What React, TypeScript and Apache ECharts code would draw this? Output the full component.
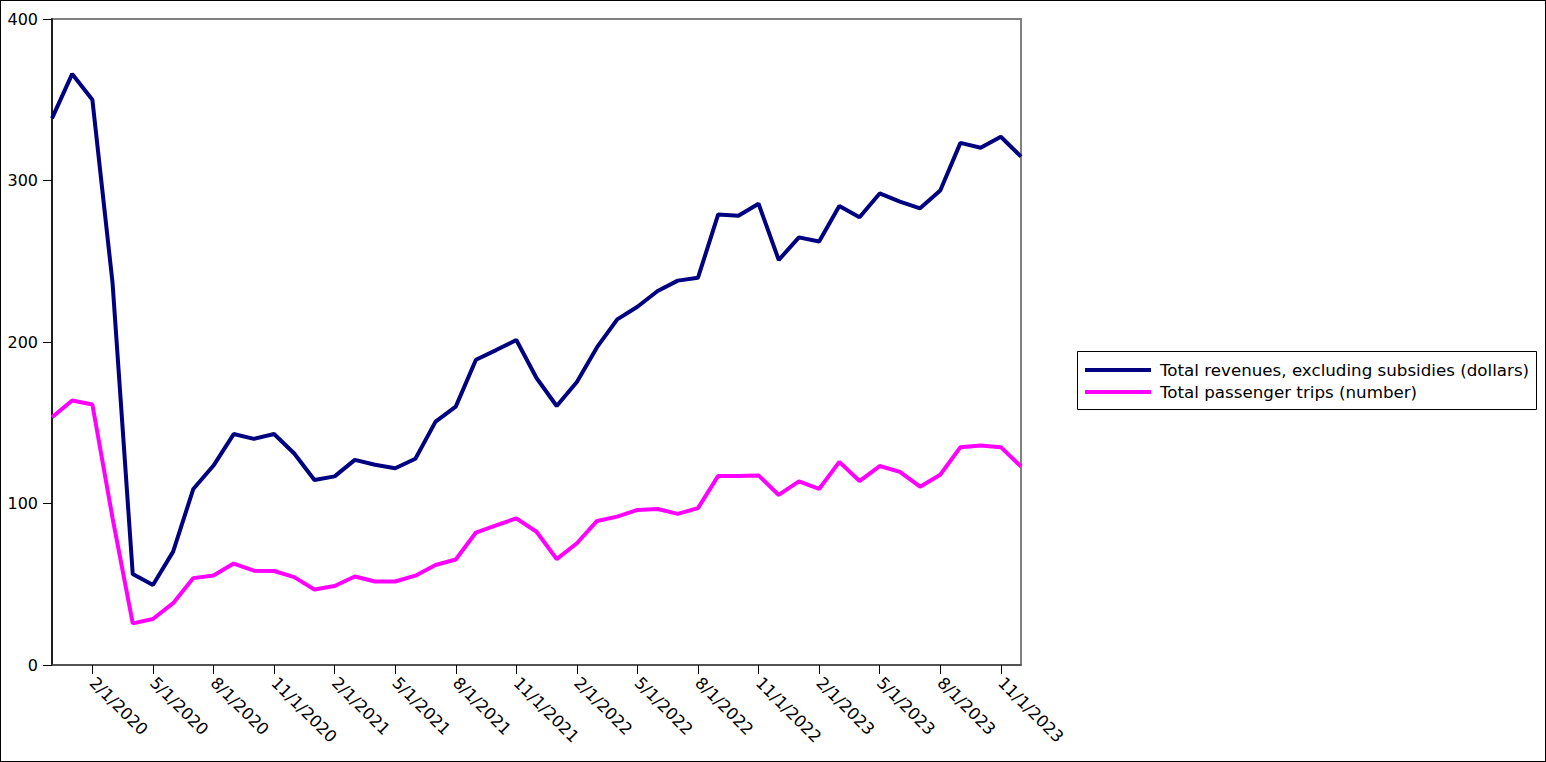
import React, { useEffect, useRef } from "react";
import * as echarts from "echarts";

const months = [
  "12/1/2019",
  "1/1/2020", "2/1/2020", "3/1/2020", "4/1/2020", "5/1/2020", "6/1/2020",
  "7/1/2020", "8/1/2020", "9/1/2020", "10/1/2020", "11/1/2020", "12/1/2020",
  "1/1/2021", "2/1/2021", "3/1/2021", "4/1/2021", "5/1/2021", "6/1/2021",
  "7/1/2021", "8/1/2021", "9/1/2021", "10/1/2021", "11/1/2021", "12/1/2021",
  "1/1/2022", "2/1/2022", "3/1/2022", "4/1/2022", "5/1/2022", "6/1/2022",
  "7/1/2022", "8/1/2022", "9/1/2022", "10/1/2022", "11/1/2022", "12/1/2022",
  "1/1/2023", "2/1/2023", "3/1/2023", "4/1/2023", "5/1/2023", "6/1/2023",
  "7/1/2023", "8/1/2023", "9/1/2023", "10/1/2023", "11/1/2023", "12/1/2023",
];

const revenues = [
  338.5, 366, 350, 236.5, 56.3, 49.5, 70.2, 109, 123.5, 143, 140, 143, 131,
  114.5, 116.8, 127, 124, 121.8, 127.7, 150.7, 160, 189, 195, 201.2, 177.7,
  160.4, 175.2, 196.8, 214, 221.8, 231.6, 238, 239.8, 279, 278.2, 285.6,
  250.8, 264.8, 262.2, 284.2, 277.2, 292, 286.9, 282.8, 293.8, 323.3, 320.3,
  327.1, 314.8,
];

const trips = [
  153.4, 163.8, 161.3, 91, 25.8, 28.5, 38.3, 53.8, 55.4, 62.8, 58.4, 58.2,
  54.4, 46.8, 48.9, 54.8, 51.7, 51.7, 55.3, 61.9, 65.3, 82, 86.5, 90.8, 82.5,
  65.6, 75.4, 89.2, 91.9, 96, 96.6, 93.6, 97.1, 117.1, 117, 117.4, 105.3,
  113.7, 109, 125.8, 113.9, 123.2, 119.6, 110.4, 117.8, 134.9, 135.9, 134.9,
  122.9,
];

const seriesNames = [
  "Total revenues, excluding subsidies (dollars)",
  "Total passenger trips (number)",
];
const seriesColors = ["#000080", "#ff00ff"];

const FONT = "DejaVu Sans";

export default function App() {
  const ref = useRef<HTMLDivElement>(null);
  useEffect(() => {
    const chart = echarts.init(ref.current!, null, { renderer: "svg" });
    const showIdx = (i: number) => i >= 2 && (i - 2) % 3 === 0;

    const legendX = 1077.5;
    const legendY = 351.5;
    const rowY = [370, 392];
    const legendGraphics: any[] = [
      {
        type: "rect",
        shape: { x: legendX, y: legendY, width: 459, height: 58 },
        style: { fill: "#fff", stroke: "#000", lineWidth: 1 },
        z: 100,
      },
    ];
    seriesNames.forEach((name, k) => {
      legendGraphics.push({
        type: "line",
        shape: { x1: 1085, y1: rowY[k], x2: 1151, y2: rowY[k] },
        style: { stroke: seriesColors[k], lineWidth: 4 },
        z: 101,
      });
      legendGraphics.push({
        type: "text",
        x: 1160,
        y: rowY[k],
        style: {
          text: name,
          fontSize: 16.7,
          fontFamily: FONT,
          fill: "#000",
          verticalAlign: "middle",
          align: "left",
        },
        z: 101,
      });
    });

    chart.setOption({
      animation: false,
      backgroundColor: "#ffffff",
      textStyle: { fontFamily: FONT },
      grid: {
        left: 52,
        top: 19,
        right: 525,
        bottom: 97,
        show: true,
        borderColor: "#808080",
        borderWidth: 2,
        containLabel: false,
      },
      graphic: legendGraphics,
      xAxis: {
        type: "category",
        data: months,
        boundaryGap: false,
        axisLine: { show: true, lineStyle: { color: "#444", width: 1.5 } },
        axisTick: {
          show: true,
          interval: (i: number) => showIdx(i),
          length: 9,
          lineStyle: { color: "#000", width: 1 },
        },
        axisLabel: {
          interval: (i: number) => showIdx(i),
          rotate: -45,
          fontSize: 16.5,
          color: "#000",
          fontFamily: FONT,
          margin: 15,
        },
        splitLine: { show: false },
      },
      yAxis: {
        type: "value",
        min: 0,
        max: 400,
        interval: 100,
        axisLine: { show: true, lineStyle: { color: "#000", width: 1.5 } },
        axisTick: { show: true, length: 9, lineStyle: { color: "#000", width: 1 } },
        axisLabel: { fontSize: 16, color: "#000", fontFamily: FONT, margin: 14 },
        splitLine: { show: false },
      },
      series: [
        {
          name: seriesNames[0],
          type: "line",
          data: revenues,
          symbol: "none",
          lineStyle: { color: seriesColors[0], width: 4 },
          itemStyle: { color: seriesColors[0] },
        },
        {
          name: seriesNames[1],
          type: "line",
          data: trips,
          symbol: "none",
          lineStyle: { color: seriesColors[1], width: 4 },
          itemStyle: { color: seriesColors[1] },
        },
      ],
    });
    return () => chart.dispose();
  }, []);
  return (
    <div style={{ position: "fixed", left: 0, top: 0, width: 1546, height: 762, background: "#fff" }}>
      <div ref={ref} style={{ width: 1546, height: 762 }} />
      <div
        style={{
          position: "absolute",
          left: 0,
          top: 0,
          width: 1546,
          height: 762,
          boxSizing: "border-box",
          border: "1px solid #000",
          pointerEvents: "none",
        }}
      />
    </div>
  );
}
